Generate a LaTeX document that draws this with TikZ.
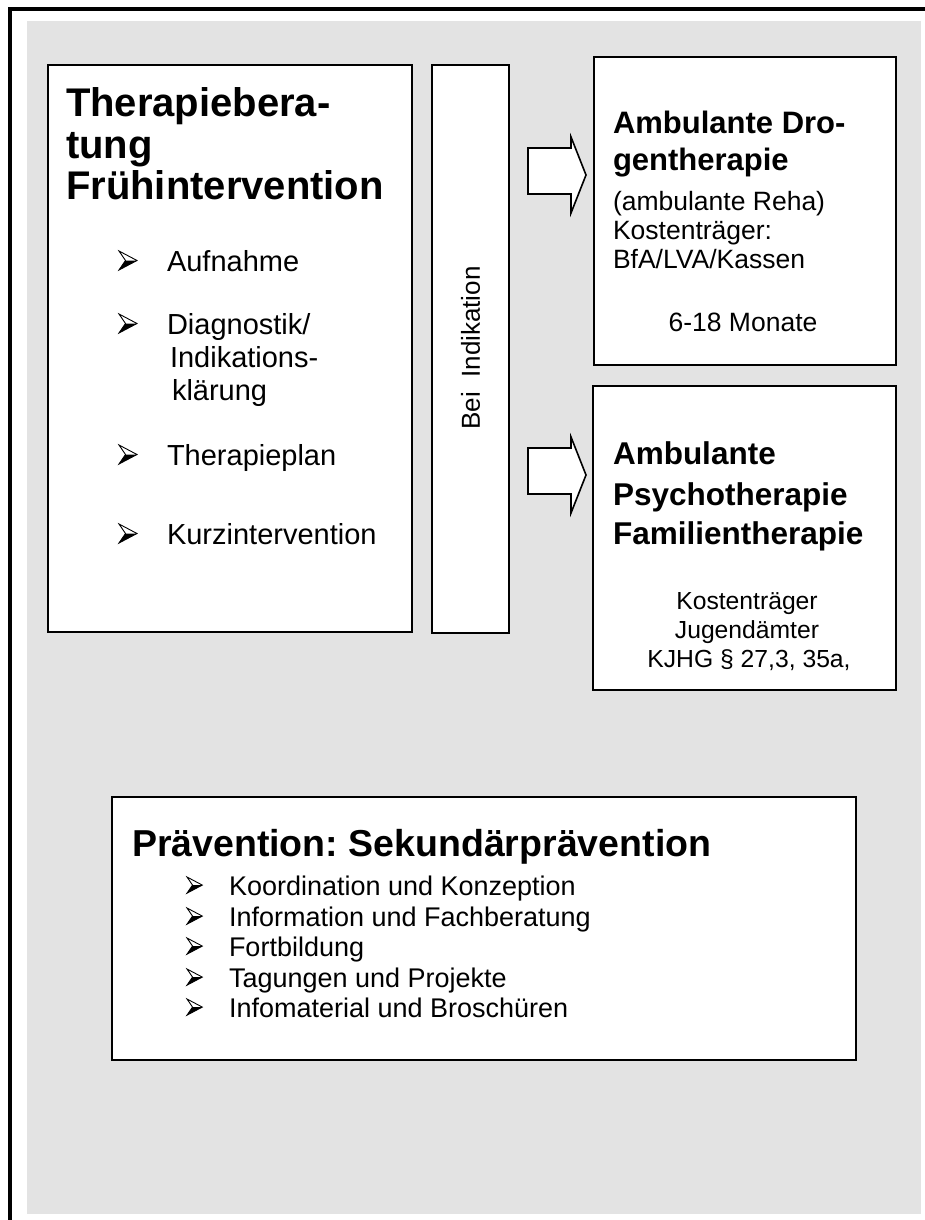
\documentclass[tikz,border=0pt]{standalone}
\usepackage{fontspec}
\setmainfont{Liberation Sans}
\definecolor{bggrey}{RGB}{227,227,227}
\newcommand{\fs}[1]{\fontsize{#1pt}{#1pt}\selectfont}
\begin{document}
\frenchspacing
\begin{tikzpicture}[x=1pt,y=-1pt,
  box/.style={draw=black,fill=white,line width=2.2pt},
  blockarrow/.style={draw=black,fill=white,line width=1.6pt,line join=miter},
  txt/.style={anchor=base west,inner sep=0pt,outer sep=0pt},
  ctxt/.style={anchor=base,inner sep=0pt,outer sep=0pt},
  arrbul/.pic={
    \fill[black] (0,19) -- (6.5,9.5) -- (18,9.5) -- cycle;
    \draw[line width=0.9pt,line join=miter] (0,0) -- (18,9.5) -- (0,19) -- (6.5,9.5) -- cycle;
  }]
\useasboundingbox (0,0) rectangle (925,1220);
\clip (0,0) rectangle (925,1220);
% frame and background
\draw[line width=4pt] (10,9.5) rectangle (940,1240);
\fill[bggrey] (27,21) rectangle (921,1214);
% boxes
\draw[box] (48,65) rectangle (412,632);
\draw[box] (432,65) rectangle (509,633);
\draw[box,line width=2pt] (594,57) rectangle (896,365);
\draw[box,line width=2pt] (593,386) rectangle (896,690);
\draw[box,line width=1.5pt] (112,797) rectangle (856,1060);
% block arrows
\draw[blockarrow] (528,148) -- (571,148) -- (571,137) -- (586,175) -- (571,213) -- (571,194) -- (528,194) -- cycle;
\draw[blockarrow] (528,448) -- (571,448) -- (571,437) -- (586,475) -- (571,513) -- (571,494) -- (528,494) -- cycle;
% left box
\node[txt,font=\bfseries\fs{40}] (t1) at (66,117) {Therapiebera-};
\node[txt,font=\bfseries\fs{40}] (t2) at (66,158) {tung};
\node[txt,font=\bfseries\fs{40}] (t3) at (66,199) {Frühintervention};
\pic at (119,251) {arrbul};
\node[txt,font=\fs{29}] (i1) at (167,271) {Aufnahme};
\pic at (119,314) {arrbul};
\node[txt,font=\fs{29}] (i2) at (167,334) {Diagnostik/};
\node[txt,font=\fs{29}] (i2b) at (170,367) {Indikations-};
\node[txt,font=\fs{29}] (i2c) at (172,400) {klärung};
\pic at (119,445) {arrbul};
\node[txt,font=\fs{29}] (i3) at (167,465) {Therapieplan};
\pic at (119,524) {arrbul};
\node[txt,font=\fs{29}] (i4) at (167,544) {Kurzintervention};
% Bei Indikation
\node[rotate=90,inner sep=0pt,font=\fs{26}] (bi) at (470.5,348) {Bei\ \ Indikation};
% right box 1
\node[txt,font=\bfseries\fs{31}] (a1) at (613,133) {Ambulante Dro-};
\node[txt,font=\bfseries\fs{31}] (a2) at (613,170) {gentherapie};
\node[txt,font=\fs{26.5}] (a3) at (613,210) {(ambulante Reha)};
\node[txt,font=\fs{26.5}] (a4) at (613,239) {Kostenträger:};
\node[txt,font=\fs{26.5}] (a5) at (613,268) {BfA/LVA/Kassen};
\node[ctxt,font=\fs{26.5}] (a6) at (743,331) {6-18 Monate};
% right box 2
\node[txt,font=\bfseries\fs{31.5}] (p1) at (613,464) {Ambulante};
\node[txt,font=\bfseries\fs{31.5}] (p2) at (613,505) {Psychotherapie};
\node[txt,font=\bfseries\fs{31.5}] (p3) at (613,544) {Familientherapie};
\node[ctxt,font=\fs{24.7}] (p4) at (747,609) {Kostenträger};
\node[ctxt,font=\fs{24.7}] (p5) at (747,638) {Jugendämter};
\node[ctxt,font=\fs{24.7}] (p6) at (749,667) {KJHG § 27,3, 35a,};
% bottom box
\node[txt,font=\bfseries\fs{37.5}] (s0) at (132,856) {Prävention: Sekundärprävention};
\foreach \yy in {877,908,938,969,999} \pic[scale=0.85] at (187,\yy) {arrbul};
\node[txt,font=\fs{27}] (s1) at (229,895) {Koordination und Konzeption};
\node[txt,font=\fs{27}] (s2) at (229,926) {Information und Fachberatung};
\node[txt,font=\fs{27}] (s3) at (229,956) {Fortbildung};
\node[txt,font=\fs{27}] (s4) at (229,987) {Tagungen und Projekte};
\node[txt,font=\fs{27}] (s5) at (229,1017) {Infomaterial und Broschüren};
\end{tikzpicture}
\end{document}
